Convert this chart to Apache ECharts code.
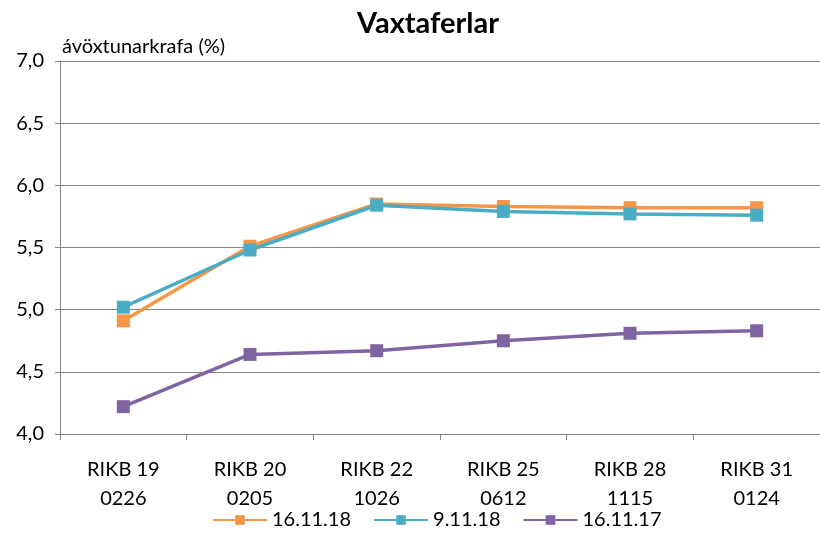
<!DOCTYPE html>
<html>
<head>
<meta charset="utf-8">
<script src="https://cdn.jsdelivr.net/npm/echarts@6/dist/echarts.min.js"></script>
<style>
  html, body { margin: 0; padding: 0; background: #fff; }
  #chart { width: 820px; height: 535px; }
</style>
</head>
<body>
<div id="chart"></div>
<script>
// bréf
const categories = ['RIKB 19\n0226', 'RIKB 20\n0205', 'RIKB 22\n1026', 'RIKB 25\n0612', 'RIKB 28\n1115', 'RIKB 31\n0124'];
const seriesNames = ['16.11.18', '9.11.18', '16.11.17'];
const values161118 = [4.91, 5.51, 5.85, 5.83, 5.82, 5.82];
const values91118 = [5.02, 5.48, 5.84, 5.79, 5.77, 5.76];
const values161117 = [4.22, 4.64, 4.67, 4.75, 4.81, 4.83];
const colors = ['#F79646', '#4BACC6', '#8064A2'];

const fontFam = 'Lato, "Open Sans", sans-serif';

function makeSeries(name, data, color) {
    return {
        name: name,
        type: 'line',
        data: data,
        symbol: 'rect',
        symbolSize: 13,
        lineStyle: { width: 3.5, color: color },
        itemStyle: { color: color },
        animation: false
    };
}

const option = {
    textStyle: { fontFamily: fontFam },
    title: {
        text: 'Vaxtaferlar',
        left: 352,
        top: 4,
        textStyle: { fontSize: 29, fontWeight: 'bold', color: '#000', fontFamily: fontFam }
    },
    legend: {
        bottom: 0,
        left: 207,
        itemWidth: 54,
        itemHeight: 12,
        itemGap: 22,
        textStyle: { fontSize: 20, color: '#000', fontFamily: fontFam },
        data: seriesNames
    },
    grid: { left: 60, right: 0, top: 61, bottom: 101, containLabel: false },
    xAxis: {
        type: 'category',
        data: categories,
        boundaryGap: true,
        axisLine: { lineStyle: { color: '#868686', width: 1 } },
        axisTick: { show: true, length: 6, lineStyle: { color: '#868686' } },
        axisLabel: { fontSize: 20, color: '#000', margin: 21, lineHeight: 29, fontFamily: fontFam }
    },
    yAxis: {
        type: 'value',
        min: 4,
        max: 7,
        interval: 0.5,
        name: 'ávöxtunarkrafa (%)',
        nameLocation: 'end',
        nameGap: 4,
        nameTextStyle: { align: 'left', fontSize: 20, color: '#000', padding: [0, 0, 0, 2], fontFamily: fontFam },
        axisLine: { show: true, lineStyle: { color: '#868686', width: 1 } },
        axisTick: { show: true, length: 5, lineStyle: { color: '#868686' } },
        splitLine: { lineStyle: { color: '#868686', width: 1 } },
        axisLabel: {
            fontSize: 20,
            color: '#000',
            margin: 16,
            fontFamily: fontFam,
            formatter: function (v) { return v.toFixed(1).replace('.', ','); }
        }
    },
    series: [
        makeSeries(seriesNames[0], values161118, colors[0]),
        makeSeries(seriesNames[1], values91118, colors[1]),
        makeSeries(seriesNames[2], values161117, colors[2])
    ]
};

const chart = echarts.init(document.getElementById('chart'));
chart.setOption(option);
</script>
</body>
</html>
